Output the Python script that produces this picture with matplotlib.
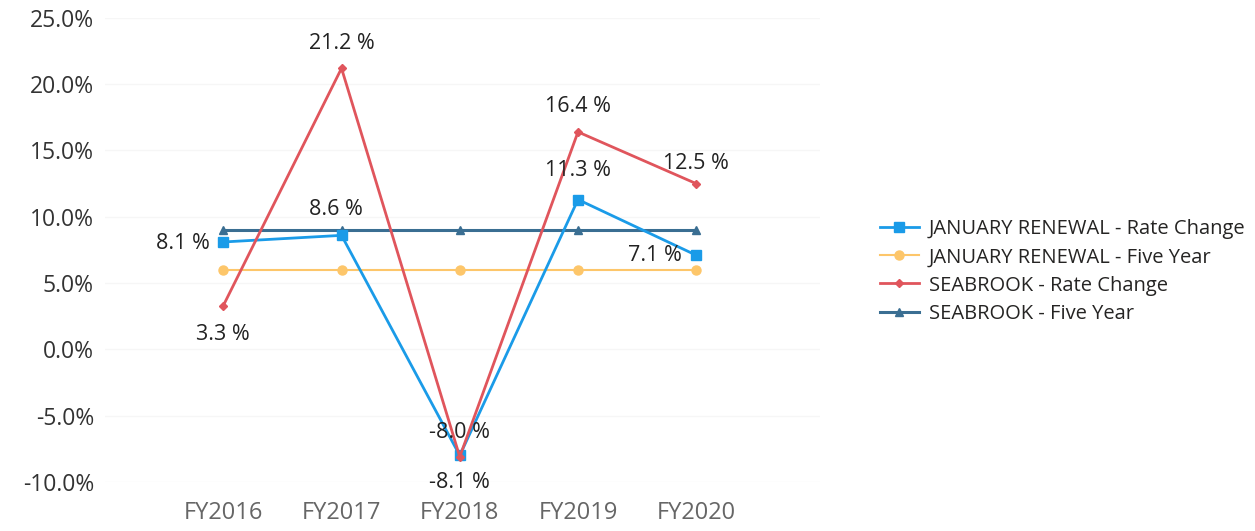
import matplotlib
matplotlib.use("Agg")
import matplotlib.pyplot as plt
from matplotlib.ticker import FuncFormatter

categories = ["FY2016", "FY2017", "FY2018", "FY2019", "FY2020"]
jan_rate = [8.1, 8.6, -8.0, 11.3, 7.1]
jan_five = [6.0, 6.0, 6.0, 6.0, 6.0]
sea_rate = [3.3, 21.2, -8.1, 16.4, 12.5]
sea_five = [9.0, 9.0, 9.0, 9.0, 9.0]
yticks = [-10, -5, 0, 5, 10, 15, 20, 25]

plt.rcParams['font.family'] = ['Open Sans', 'DejaVu Sans']

fig = plt.figure(figsize=(12.55, 5.31), dpi=100)
ax = fig.add_axes([0.0837, 0.0923, 0.57, 0.874])

x = list(range(len(categories)))
c_blue = "#1A9BE8"
c_orange = "#FDC66A"
c_red = "#E0555C"
c_dark = "#3A6E92"

ax.plot(x, jan_rate, color=c_blue, marker="s", ms=6.5, lw=2, label="JANUARY RENEWAL - Rate Change", zorder=4)
ax.plot(x, jan_five, color=c_orange, marker="o", ms=6.5, lw=1.5, label="JANUARY RENEWAL - Five Year", zorder=3)
ax.plot(x, sea_rate, color=c_red, marker="D", ms=4.5, lw=2, label="SEABROOK - Rate Change", zorder=4)
ax.plot(x, sea_five, color=c_dark, marker="^", ms=5.5, lw=2.2, label="SEABROOK - Five Year", zorder=3)

ax.set_xlim(-1.0, 5.05)
ax.set_ylim(-10, 25)
ax.set_yticks(yticks)
ax.yaxis.set_major_formatter(FuncFormatter(lambda v, p: f"{v:.1f}%"))
ax.set_xticks(x)
ax.set_xticklabels(categories)
for s in ax.spines.values():
    s.set_visible(False)
ax.tick_params(axis="both", length=0)
ax.tick_params(axis="y", labelsize=16.5, labelcolor="#333333", pad=8)
ax.tick_params(axis="x", labelsize=17, labelcolor="#666666", pad=14)
ax.grid(axis="y", color="#F6F6F6", lw=1)
ax.set_axisbelow(True)

lab_kw = dict(textcoords="offset points", fontsize=15.5, color="#222222", zorder=6)
offsets_blue = [(-10, -1, "right", "center"), (-4, 11, "center", "bottom"), (0, 9, "center", "bottom"),
                (0, 13, "center", "bottom"), (-10, 0, "right", "center")]
offsets_red = [(0, -13, "center", "top"), (0, 10, "center", "bottom"), (0, -11, "center", "top"),
               (0, 11, "center", "bottom"), (0, 7, "center", "bottom")]
for i, v in enumerate(jan_rate):
    dx, dy, ha, va = offsets_blue[i]
    ax.annotate(f"{v:.1f} %", (x[i], v), xytext=(dx, dy), ha=ha, va=va, **lab_kw)
for i, v in enumerate(sea_rate):
    dx, dy, ha, va = offsets_red[i]
    ax.annotate(f"{v:.1f} %", (x[i], v), xytext=(dx, dy), ha=ha, va=va, **lab_kw)

leg = fig.legend(*ax.get_legend_handles_labels(), loc="center left",
                 bbox_to_anchor=(0.701, 0.4887), bbox_transform=fig.transFigure,
                 frameon=False, fontsize=14.5, handlelength=1.94, labelspacing=0.4,
                 handletextpad=0.5, borderpad=0, borderaxespad=0)
for t in leg.get_texts():
    t.set_color("#252423")

fig.savefig("out.png", dpi=100, facecolor="white")
